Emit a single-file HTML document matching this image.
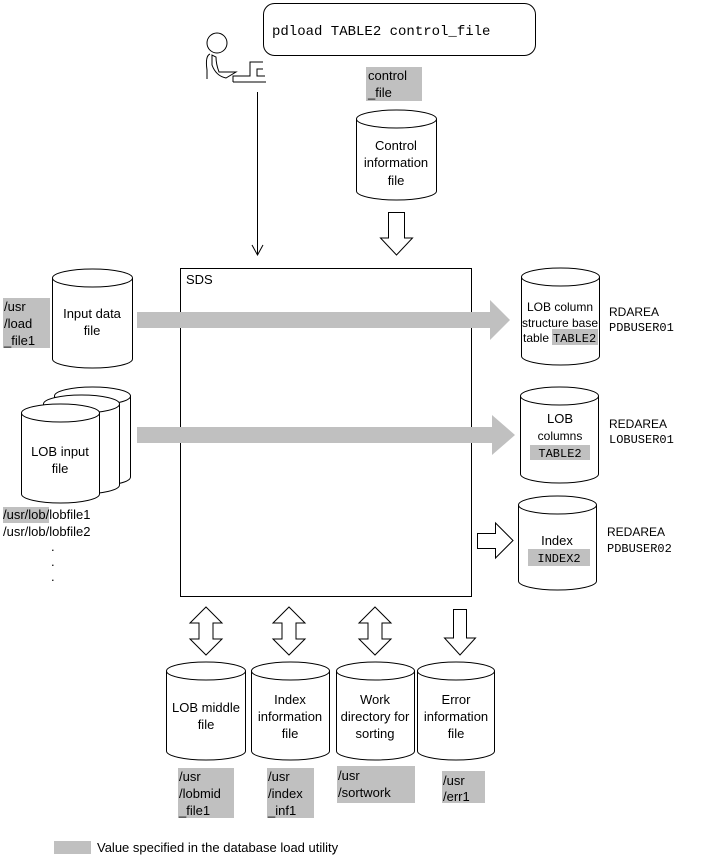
<!DOCTYPE html>
<html><head><meta charset="utf-8"><style>
html,body{margin:0;padding:0;background:#fff;}
svg{display:block;}
text{font-family:"Liberation Sans",sans-serif;font-size:13px;fill:#000;}
.m{font-family:"Liberation Mono",monospace;}
</style></head><body>
<svg width="715" height="859" viewBox="0 0 715 859" xmlns="http://www.w3.org/2000/svg">
<defs>
<g id="dbl"><path d="M0,-24 L16,-8 L7,-8 L7,8 L16,8 L0,24 L-16,8 L-7,8 L-7,-8 L-16,-8 Z" fill="#fff" stroke="#000" stroke-width="1"/></g>
</defs>
<g fill="#fff" stroke="#000" stroke-width="1">
<rect x="263.5" y="3.5" width="272" height="52" rx="11"/>
<circle cx="217" cy="43" r="10"/>
<path d="M210,54 Q205,56 207,70 L207,79 M212,55 L212,65 Q216,76 226,78 L236,72 L219,72 Q216,64 216,57 Z" fill="none"/>
<path d="M233,82 L233,76 L250,76 L250,62 L263,62 M263,69 L257,69 L257,76 L265,76 M233,82 L266,82" fill="none"/>
<path d="M356.5,119 L356.5,191 A40,9 0 0 0 436.5,191 L436.5,119"/>
<ellipse cx="396.5" cy="119" rx="40" ry="9"/>
<path d="M388.5,212.5 L404.5,212.5 L404.5,238 L412.5,238 L396.5,255 L380.5,238 L388.5,238 Z"/>
<rect x="180.5" y="268.5" width="291" height="328"/>
<path d="M52.5,278 L52.5,359 A40,9 0 0 0 132.5,359 L132.5,278"/>
<ellipse cx="92.5" cy="278" rx="40" ry="9"/>
<path d="M54.5,396 L54.5,477 A38,9 0 0 0 130.5,477 L130.5,396"/>
<ellipse cx="92.5" cy="396" rx="38" ry="9"/>
<path d="M43.5,404 L43.5,485 A38,9 0 0 0 119.5,485 L119.5,404"/>
<ellipse cx="81.5" cy="404" rx="38" ry="9"/>
<path d="M21.5,413 L21.5,494 A39,9 0 0 0 99.5,494 L99.5,413"/>
<ellipse cx="60.5" cy="413" rx="39" ry="9"/>
<path d="M521.5,277 L521.5,356 A39,9 0 0 0 599.5,356 L599.5,277"/>
<ellipse cx="560.5" cy="277" rx="39" ry="9"/>
<path d="M520.5,396 L520.5,474 A39,9 0 0 0 598.5,474 L598.5,396"/>
<ellipse cx="559.5" cy="396" rx="39" ry="9"/>
<path d="M518.5,505 L518.5,581 A39,9 0 0 0 596.5,581 L596.5,505"/>
<ellipse cx="557.5" cy="505" rx="39" ry="9"/>
<path d="M477.5,533.5 L495.5,533.5 L495.5,523 L513,540.5 L495.5,558 L495.5,548.5 L477.5,548.5 Z"/>
<path d="M166.5,671 L166.5,751 A39.5,9 0 0 0 245.5,751 L245.5,671"/>
<ellipse cx="206" cy="671" rx="39.5" ry="9"/>
<path d="M251.5,671 L251.5,751 A39,9 0 0 0 329.5,751 L329.5,671"/>
<ellipse cx="290.5" cy="671" rx="39" ry="9"/>
<path d="M336.5,671 L336.5,751 A39,9 0 0 0 414.5,751 L414.5,671"/>
<ellipse cx="375.5" cy="671" rx="39" ry="9"/>
<path d="M417.5,671 L417.5,751 A38.5,9 0 0 0 494.5,751 L494.5,671"/>
<ellipse cx="456" cy="671" rx="38.5" ry="9"/>
<path d="M453.5,609.5 L466.5,609.5 L466.5,638 L475.5,638 L460,655 L444.5,638 L453.5,638 Z"/>
</g>
<use href="#dbl" x="206" y="631"/>
<use href="#dbl" x="289" y="631"/>
<use href="#dbl" x="375" y="631"/>
<line x1="257.5" y1="92" x2="257.5" y2="255" stroke="#000"/>
<path d="M252,245 L257.5,255 L263,245" fill="none" stroke="#000"/>
<path d="M137,312 L490,312 L490,300 L510,320 L490,340 L490,328 L137,328 Z" fill="#c0c0c0"/>
<path d="M137,427 L492,427 L492,415 L515,435 L492,455 L492,443 L137,443 Z" fill="#c0c0c0"/>
<g fill="#c0c0c0">
<rect x="366" y="67" width="56" height="34"/>
<rect x="3" y="298" width="47" height="50"/>
<rect x="3" y="507" width="46" height="16"/>
<rect x="552" y="329" width="46" height="16"/>
<rect x="530" y="445" width="60" height="15"/>
<rect x="528" y="549" width="62" height="17"/>
<rect x="178" y="768" width="56" height="50"/>
<rect x="267" y="768" width="47" height="50"/>
<rect x="337" y="766" width="78" height="37"/>
<rect x="442" y="771" width="43" height="32"/>
<rect x="54" y="841" width="37" height="13"/>
</g>
<text class="m" x="272" y="35" style="font-size:14px">pdload TABLE2 control_file</text>
<text x="368" y="80">control</text><text x="368" y="97">_file</text>
<text x="396" y="150" text-anchor="middle">Control</text>
<text x="396" y="167" text-anchor="middle">information</text>
<text x="396" y="185" text-anchor="middle">file</text>
<text x="186" y="284">SDS</text>
<text x="4" y="311">/usr</text><text x="4" y="328">/load</text><text x="4" y="345">_file1</text>
<text x="92" y="318" text-anchor="middle">Input data</text>
<text x="92" y="335" text-anchor="middle">file</text>
<text x="60" y="456" text-anchor="middle">LOB input</text>
<text x="60" y="473" text-anchor="middle">file</text>
<text x="3" y="519">/usr/lob/lobfile1</text>
<text x="3" y="536">/usr/lob/lobfile2</text>
<text x="51" y="551">.</text><text x="51" y="566">.</text><text x="51" y="581">.</text>
<text x="560" y="311" text-anchor="middle" style="font-size:12px">LOB column</text>
<text x="560" y="327" text-anchor="middle" style="font-size:12px">structure base</text>
<text x="523" y="342" style="font-size:12px">table</text>
<text class="m" x="553" y="342" style="font-size:12px">TABLE2</text>
<text x="609" y="316" style="font-size:12px">RDAREA</text>
<text class="m" x="609" y="331" style="font-size:12px">PDBUSER01</text>
<text x="560" y="423" text-anchor="middle">LOB</text>
<text x="560" y="440" text-anchor="middle" style="font-size:12px">columns</text>
<text class="m" x="560" y="457" text-anchor="middle" style="font-size:12px">TABLE2</text>
<text x="609" y="428" style="font-size:12px">REDAREA</text>
<text class="m" x="609" y="443" style="font-size:12px">LOBUSER01</text>
<text x="557" y="545" text-anchor="middle">Index</text>
<text class="m" x="559" y="562" text-anchor="middle" style="font-size:12px">INDEX2</text>
<text x="607" y="536" style="font-size:12px">REDAREA</text>
<text class="m" x="607" y="552" style="font-size:12px">PDBUSER02</text>
<text x="206" y="712" text-anchor="middle">LOB middle</text>
<text x="206" y="729" text-anchor="middle">file</text>
<text x="290" y="704" text-anchor="middle">Index</text>
<text x="290" y="721" text-anchor="middle">information</text>
<text x="290" y="738" text-anchor="middle">file</text>
<text x="375" y="704" text-anchor="middle">Work</text>
<text x="375" y="721" text-anchor="middle">directory for</text>
<text x="375" y="738" text-anchor="middle">sorting</text>
<text x="456" y="704" text-anchor="middle">Error</text>
<text x="456" y="721" text-anchor="middle">information</text>
<text x="456" y="738" text-anchor="middle">file</text>
<text x="179" y="781">/usr</text><text x="179" y="798">/lobmid</text><text x="179" y="815">_file1</text>
<text x="268" y="781">/usr</text><text x="268" y="798">/index</text><text x="268" y="815">_inf1</text>
<text x="338" y="780">/usr</text><text x="338" y="797">/sortwork</text>
<text x="443" y="785">/usr</text><text x="443" y="801">/err1</text>
<text x="97" y="852">Value specified in the database load utility</text>
</svg>
</body></html>
